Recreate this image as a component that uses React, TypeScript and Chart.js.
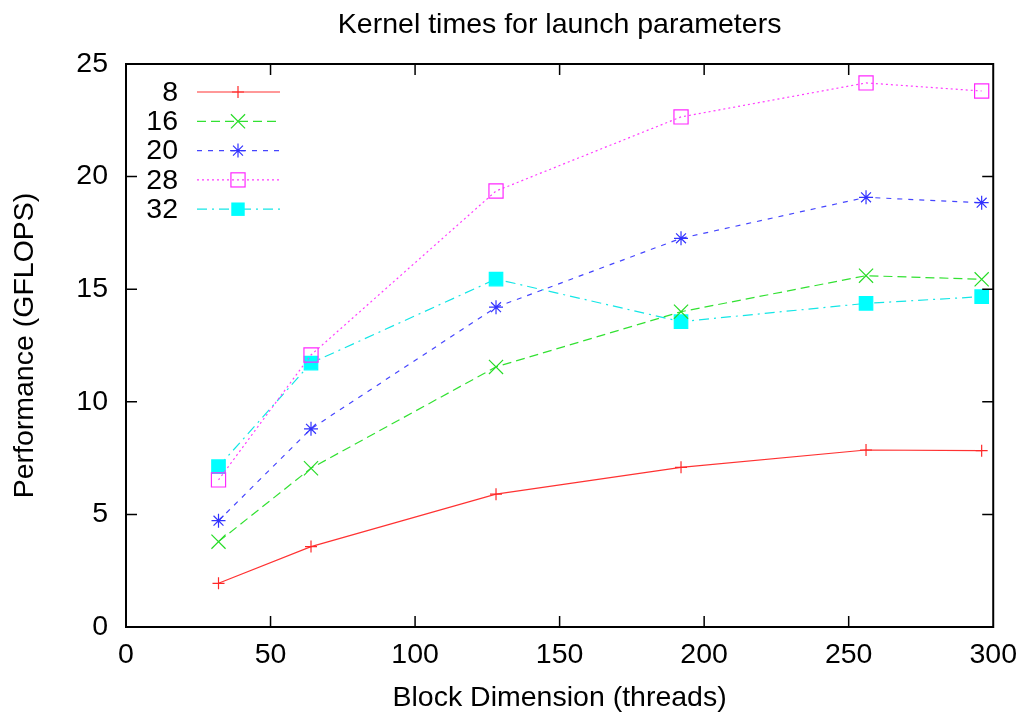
import React, { useEffect, useRef } from 'react';
import { Chart, registerables } from 'chart.js';

Chart.register(...registerables);

const blockDims = [32, 64, 128, 192, 256, 296];
const seriesLabels = ['8', '16', '20', '28', '32'];
const perf8 = [1.94, 3.57, 5.9, 7.09, 7.86, 7.83];
const perf16 = [3.79, 7.05, 11.55, 14.0, 15.6, 15.44];
const perf20 = [4.72, 8.8, 14.2, 17.26, 19.08, 18.84];
const perf28 = [6.53, 12.08, 19.36, 22.65, 24.16, 23.8];
const perf32 = [7.12, 11.72, 15.45, 13.56, 14.37, 14.67];
const xTickValues = [0, 50, 100, 150, 200, 250, 300];
const yTickValues = [0, 5, 10, 15, 20, 25];

const FONT = '"Liberation Sans", Arial, Helvetica, sans-serif';
const FS = 28.5;

type Style = {
  color: string;
  markColor: string;
  dash: number[];
  point: string;
  radius: number;
  filled: boolean;
};

const styles: Style[] = [
  { color: 'rgb(255,50,50)', markColor: 'rgb(255,40,40)', dash: [], point: 'cross', radius: 6, filled: false },
  { color: 'rgb(50,225,50)', markColor: 'rgb(40,220,40)', dash: [9, 5], point: 'crossRot', radius: 10, filled: false },
  { color: 'rgb(70,70,255)', markColor: 'rgb(50,50,255)', dash: [5, 6], point: 'star', radius: 7, filled: false },
  { color: 'rgb(255,60,255)', markColor: 'rgb(255,40,255)', dash: [2, 3], point: 'rect', radius: 10, filled: false },
  { color: 'rgb(20,230,230)', markColor: 'rgb(0,255,255)', dash: [10, 5, 2, 5], point: 'rect', radius: 9.5, filled: true },
];

const seriesValues = [perf8, perf16, perf20, perf28, perf32];

function drawMarker(ctx: CanvasRenderingContext2D, s: Style, x: number, y: number) {
  ctx.save();
  ctx.setLineDash([]);
  ctx.strokeStyle = s.markColor;
  ctx.fillStyle = s.markColor;
  ctx.lineWidth = 1.2;
  const r = s.radius;
  ctx.beginPath();
  if (s.point === 'cross' || s.point === 'star') {
    ctx.moveTo(x - r, y); ctx.lineTo(x + r, y);
    ctx.moveTo(x, y - r); ctx.lineTo(x, y + r);
  }
  if (s.point === 'crossRot' || s.point === 'star') {
    const o = r * Math.SQRT1_2;
    ctx.moveTo(x - o, y - o); ctx.lineTo(x + o, y + o);
    ctx.moveTo(x - o, y + o); ctx.lineTo(x + o, y - o);
  }
  ctx.stroke();
  if (s.point === 'rect') {
    const h = r * Math.SQRT1_2;
    if (s.filled) ctx.fillRect(x - h, y - h, 2 * h, 2 * h);
    else ctx.strokeRect(x - h, y - h, 2 * h, 2 * h);
  }
  ctx.restore();
}

const framePlugin = {
  id: 'gnuFrame',
  afterDraw(chart: any) {
    const { ctx, chartArea: a, scales } = chart;
    const L = 11;
    ctx.save();
    ctx.strokeStyle = '#000';
    ctx.lineWidth = 1.5;
    ctx.setLineDash([]);
    ctx.beginPath();
    scales.x.ticks.forEach((t: any) => {
      const px = scales.x.getPixelForValue(t.value);
      if (px <= a.left + 1 || px >= a.right - 1) return;
      ctx.moveTo(px, a.bottom); ctx.lineTo(px, a.bottom - L);
      ctx.moveTo(px, a.top); ctx.lineTo(px, a.top + L);
    });
    scales.y.ticks.forEach((t: any) => {
      const py = scales.y.getPixelForValue(t.value);
      if (py <= a.top + 1 || py >= a.bottom - 1) return;
      ctx.moveTo(a.left, py); ctx.lineTo(a.left + L, py);
      ctx.moveTo(a.right, py); ctx.lineTo(a.right - L, py);
    });
    ctx.stroke();
    ctx.lineWidth = 2;
    ctx.strokeRect(a.left, a.top, a.right - a.left, a.bottom - a.top);
    ctx.restore();
  },
};

const legendPlugin = {
  id: 'gnuLegend',
  afterDatasetsDraw(chart: any) {
    const { ctx } = chart;
    const textRight = 178;
    const lineX0 = 197;
    const lineX1 = 280;
    const markX = 238;
    const y0 = 92;
    const dy = 29.3;
    ctx.save();
    ctx.font = `${FS}px ${FONT}`;
    ctx.textAlign = 'right';
    ctx.textBaseline = 'middle';
    seriesLabels.forEach((lab, i) => {
      const s = styles[i];
      const y = y0 + i * dy;
      ctx.fillStyle = '#000';
      ctx.fillText(lab, textRight, y + 1);
      ctx.strokeStyle = s.color;
      ctx.lineWidth = 1.2;
      ctx.setLineDash(s.dash);
      ctx.beginPath();
      ctx.moveTo(lineX0, y);
      ctx.lineTo(lineX1, y);
      ctx.stroke();
      drawMarker(ctx, s, markX, y);
    });
    ctx.restore();
  },
};

export default function App() {
  const ref = useRef<HTMLCanvasElement | null>(null);

  useEffect(() => {
    if (!ref.current) return;
    const datasets = seriesLabels.map((lab, i) => {
      const s = styles[i];
      return {
        label: lab,
        data: blockDims.map((x, j) => ({ x, y: seriesValues[i][j] })),
        borderColor: s.color,
        borderWidth: 1.2,
        borderDash: s.dash,
        fill: false,
        tension: 0,
        pointStyle: s.point,
        pointRadius: s.radius,
        pointHoverRadius: s.radius,
        pointBorderColor: s.markColor,
        pointBackgroundColor: s.filled ? s.markColor : 'rgba(0,0,0,0)',
        pointBorderWidth: 1.2,
      };
    });
    const chart = new Chart(ref.current, {
      type: 'line',
      data: { datasets },
      plugins: [legendPlugin, framePlugin],
      options: {
        responsive: false,
        animation: false,
        layout: { padding: { left: 0, right: 31, top: 0, bottom: 0 } },
        plugins: {
          legend: { display: false },
          tooltip: { enabled: false },
          title: {
            display: true,
            fullSize: false,
            text: 'Kernel times for launch parameters',
            color: '#000',
            font: { family: FONT, size: FS, weight: 'normal' },
            padding: { top: 8, bottom: 21.8 },
          },
        },
        scales: {
          x: {
            type: 'linear',
            min: 0,
            max: 300,
            afterBuildTicks: (scale: any) => {
              scale.ticks = xTickValues.map((v) => ({ value: v }));
            },
            afterFit: (scale: any) => {
              scale.height = 88;
            },
            grid: { display: false, drawTicks: false },
            border: { display: false },
            ticks: {
              color: '#000',
              padding: 11,
              maxRotation: 0,
              font: { family: FONT, size: FS },
            },
            title: {
              display: true,
              text: 'Block Dimension (threads)',
              color: '#000',
              font: { family: FONT, size: FS },
              padding: { top: 0, bottom: 0 },
            },
          },
          y: {
            type: 'linear',
            min: 0,
            max: 25,
            afterBuildTicks: (scale: any) => {
              scale.ticks = yTickValues.map((v) => ({ value: v }));
            },
            afterFit: (scale: any) => {
              scale.width = 126;
            },
            grid: { display: false, drawTicks: false },
            border: { display: false },
            ticks: {
              color: '#000',
              padding: 18,
              font: { family: FONT, size: FS },
            },
            title: {
              display: true,
              text: 'Performance (GFLOPS)',
              color: '#000',
              font: { family: FONT, size: FS },
              padding: { top: 8, bottom: 0 },
            },
          },
        },
      } as any,
    });
    return () => chart.destroy();
  }, []);

  return (
    <div style={{ position: 'absolute', left: 0, top: 0, width: 1028, height: 715, background: '#fff' }}>
      <canvas ref={ref} width={1028} height={715} style={{ width: 1028, height: 715, display: 'block' }} />
    </div>
  );
}
